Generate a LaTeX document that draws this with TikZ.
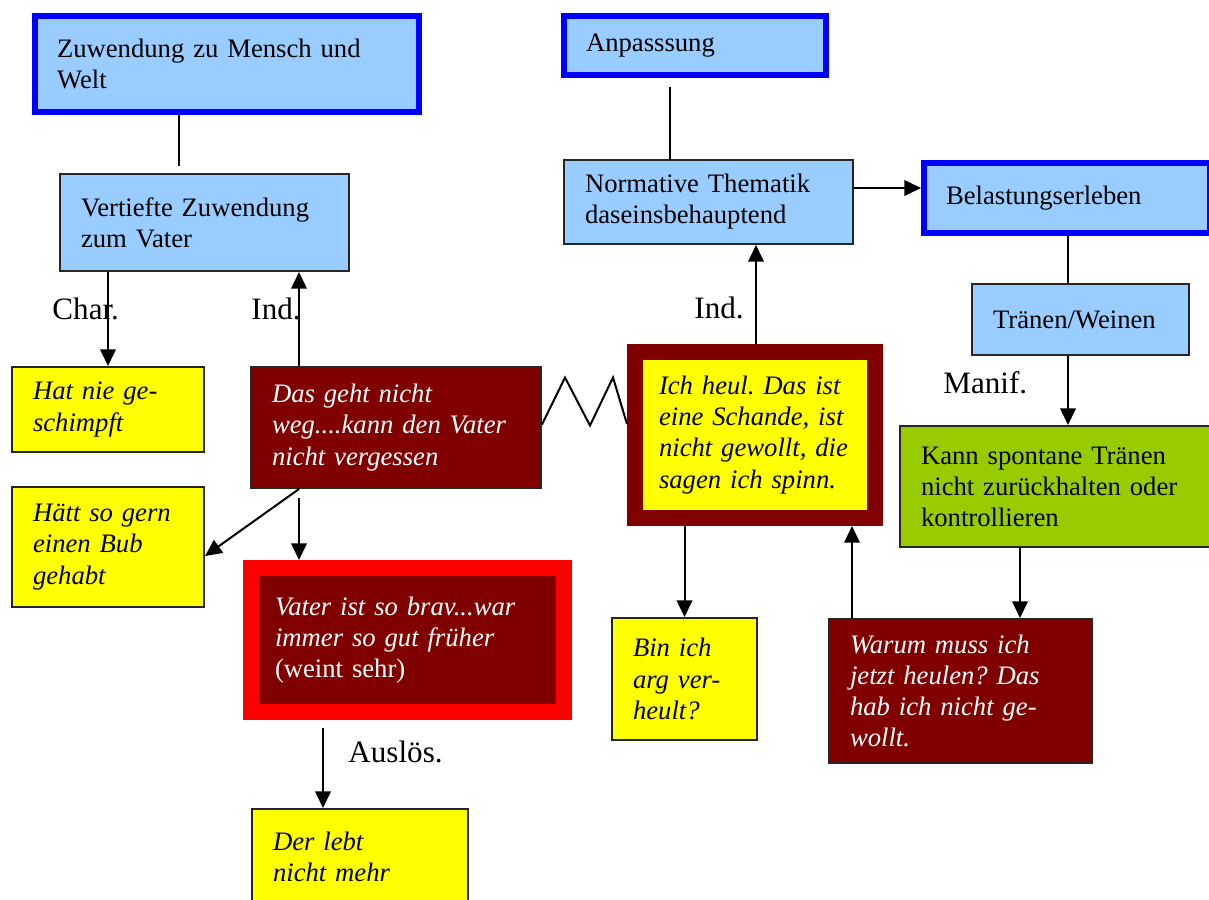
\documentclass[tikz,border=0pt]{standalone}
\usepackage{fontspec}
\setmainfont{Liberation Serif}
\frenchspacing
\usetikzlibrary{arrows.meta,calc}
\definecolor{sky}{HTML}{99CCFF}
\definecolor{frame}{HTML}{0000FF}
\definecolor{maroon}{HTML}{800000}
\definecolor{lemon}{HTML}{FFFF00}
\definecolor{signal}{HTML}{FF0000}
\definecolor{leaf}{HTML}{99CC00}
\newlength{\pix}\setlength{\pix}{0.45pt}
\tikzset{box/.style={draw=black!85,line width=2\pix,anchor=north west,align=left,
  inner xsep=21\pix,inner ysep=0pt,font=\fontsize{12}{14}\selectfont},
dims/.style n args={3}{minimum width=#1\pix,minimum height=#2\pix,text width=#3\pix},
plain/.style={box,fill=sky},
headbox/.style={box,fill=sky,draw=frame,line width=6\pix,inner xsep=22\pix},
note/.style={box,fill=lemon,font=\fontsize{12}{14}\selectfont\itshape},
speech/.style={box,fill=maroon,text=white,font=\fontsize{12}{14}\selectfont\itshape},
link/.style={line width=2\pix},
arr/.style={-{Triangle[length=7.5pt,width=7pt]},line width=2\pix},
lab/.style={font=\fontsize{14}{16}\selectfont,anchor=base west,inner sep=0pt}}
\begin{document}
\begin{tikzpicture}[x=0.45pt,y=-0.45pt]
\useasboundingbox (0,0) rectangle (1209,899);
\node[headbox,dims={384}{96}{340}] (world) at (32,13) {Zuwendung zu Mensch und\\Welt};
\node[plain,dims={289}{97}{247}] (vater) at (59,173) {Vertiefte Zuwendung\\zum Vater};
\node[headbox,dims={262}{59}{218}] (adapt) at (561,13) {Anpasssung};
\node[plain,dims={289}{84}{247}] (norm) at (563,159) {Normative Thematik\\daseinsbehauptend};
\node[headbox,dims={286}{70}{242}] (belast) at (921,160) {Belastungserleben};
\node[plain,dims={217}{71}{175}] (tears) at (971,283) {Tränen/Weinen};
\node[box,fill=leaf,dims={313}{121}{271}] (ctrl) at (899,425)
  {Kann spontane Tränen\\nicht zurückhalten oder\\kontrollieren};
\node[note,dims={192}{85}{150}] (scold) at (11,366) {Hat nie ge-\\schimpft};
\node[note,dims={192}{120}{150}] (boy) at (11,486) {Hätt so gern\\einen Bub\\gehabt};
\node[speech,dims={290}{121}{248}] (stuck) at (250,366)
  {Das geht nicht\\weg....kann den Vater\\nicht vergessen};
\node[speech,draw=signal,line width=16\pix,inner xsep=24\pix,dims={313}{144}{265}] (brave) at (243,560)
  {Vater ist so brav...war\\immer so gut früher\\\upshape(weint sehr)};
\node[note,dims={216}{96}{174}] (dead) at (251,808) {Der lebt\\nicht mehr};
\node[note,draw=maroon,line width=16\pix,inner xsep=24\pix,dims={240}{166}{192}] (shame) at (627,344)
  {Ich heul. Das ist\\eine Schande, ist\\nicht gewollt, die\\sagen ich spinn.};
\node[note,dims={145}{122}{103}] (verheult) at (611,617) {Bin ich\\arg ver-\\heult?};
\node[speech,dims={263}{144}{221}] (why) at (828,618)
  {Warum muss ich\\jetzt heulen? Das\\hab ich nicht ge-\\wollt.};
\node[lab] (char) at (52,319) {Char.};
\node[lab] (indl) at (251,319) {Ind.};
\node[lab] (indr) at (694,318) {Ind.};
\node[lab] (manif) at (943,393) {Manif.};
\node[lab] (ausl) at (348,762) {Auslös.};
\draw[link,shorten >=7\pix] (world.south -| 179,0) -- (vater.north -| 179,0);
\draw[arr] (vater.south -| scold.north) -- (scold.north);
\draw[arr] (stuck.north -| 299,0) -- (vater.south -| 299,0);
\draw[arr] (stuck.south -| 299,0) -- ([yshift=-9\pix]boy.east);
\draw[arr,shorten <=9\pix] (stuck.south -| 299,0) -- (brave.north -| 299,0);
\draw[arr,shorten <=8\pix] (brave.south -| 323,0) -- (dead.north -| 323,0);
\draw[link,shorten <=9\pix] (adapt.south -| 670,0) -- (norm.north -| 670,0);
\draw[arr] ([yshift=14\pix]norm.east) -- ([yshift=14\pix]norm.east -| belast.west);
\draw[arr] (shame.north -| 756,0) -- (norm.south -| 756,0);
\draw[arr] (shame.south -| verheult.north) -- (verheult.north);
\draw[arr] (why.north -| 852,0) -- (shame.south -| 852,0);
\draw[arr] (ctrl.south -| 1020,0) -- (why.north -| 1020,0);
\draw[link] (belast.south -| 1068,0) -- (tears.north -| 1068,0);
\draw[arr] (tears.south -| 1068,0) -- (ctrl.north -| 1068,0);
\draw[link] ([yshift=3\pix]stuck.east) -- ++(23,-47) -- ++(25,48) -- ++(23,-48) -- ([yshift=11\pix]shame.west);
\end{tikzpicture}
\end{document}
